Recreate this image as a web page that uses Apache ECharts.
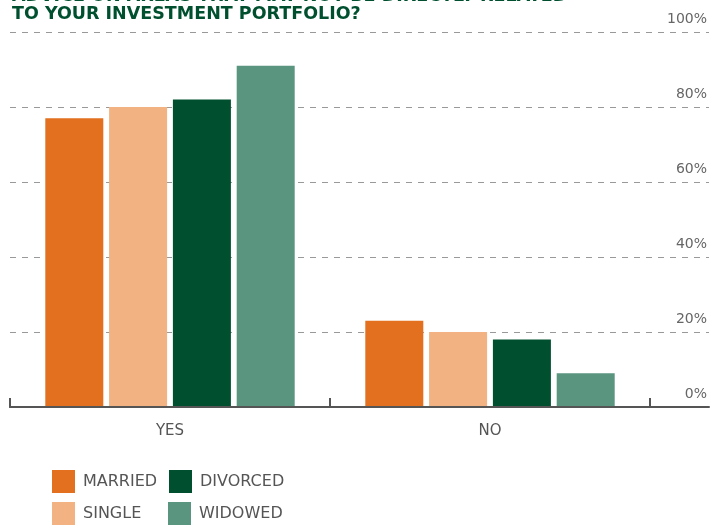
<!DOCTYPE html>
<html lang="en">
<head>
    <meta charset="UTF-8">
    <title>Advice on areas not directly related to your investment portfolio</title>
    <script src="https://cdn.jsdelivr.net/npm/echarts@6/dist/echarts.min.js"></script>
    <style>
        html, body { margin: 0; padding: 0; background: #fff; }
        #chart { width: 710px; height: 525px; }
    </style>
</head>
<body>
    <div id="chart"></div>
    <script>
        const categories = ['YES', 'NO'];
        const married = [77, 23];
        const single = [80, 20];
        const divorced = [82, 18];
        const widowed = [91, 9];
        const yTicks = [0, 20, 40, 60, 80, 100];

        const colors = {
            MARRIED: '#e2701f',
            SINGLE: '#f2b281',
            DIVORCED: '#00502f',
            WIDOWED: '#5a9580'
        };

        const chart = echarts.init(document.getElementById('chart'));

        const barSeries = (name, values) => ({
            name: name,
            type: 'bar',
            xAxisIndex: 0,
            yAxisIndex: 0,
            barWidth: 58,
            barGap: '10%',
            data: values,
            itemStyle: { color: colors[name] }
        });

        // one legend per item so the 2x2 block sits where the original has it
        const legendItem = (name, left, top) => ({
            left: left,
            top: top,
            itemWidth: 23,
            itemHeight: 23,
            padding: 0,
            icon: 'rect',
            data: [name],
            textStyle: { color: '#555', fontSize: 16, fontFamily: 'DejaVu Sans', padding: [2, 0, 0, 3] }
        });

        const option = {
            animation: false,
            textStyle: { fontFamily: 'DejaVu Sans' },
            // title is cut off at the top in the original, so it is placed partly above the canvas
            graphic: [{
                type: 'text',
                x: 12,
                y: -13,
                style: {
                    text: 'ADVICE ON AREAS THAT MAY NOT BE DIRECTLY RELATED\nTO YOUR INVESTMENT PORTFOLIO?',
                    fill: '#00502f',
                    font: 'bold 17.5px "DejaVu Sans"',
                    lineHeight: 18
                }
            }],
            legend: [
                legendItem('MARRIED', 52, 470),
                legendItem('SINGLE', 52, 502),
                legendItem('DIVORCED', 169, 470),
                legendItem('WIDOWED', 168, 502)
            ],
            grid: [
                { left: 10, right: 60, top: 32, bottom: 118 },
                { left: 10, right: 0, top: 32, bottom: 118 }
            ],
            xAxis: [
                {
                    type: 'category',
                    gridIndex: 0,
                    data: categories,
                    z: 5,
                    axisLine: { show: true, lineStyle: { color: '#555', width: 2 } },
                    axisTick: { show: true, inside: true, length: 9, lineStyle: { color: '#555', width: 2 } },
                    axisLabel: { color: '#555', fontSize: 15, margin: 17 },
                    splitLine: { show: false }
                },
                {
                    type: 'value',
                    gridIndex: 1,
                    min: 0,
                    max: 1,
                    axisLine: { show: true, onZero: false, lineStyle: { color: '#555', width: 2 } },
                    axisTick: { show: false },
                    axisLabel: { show: false },
                    splitLine: { show: false }
                }
            ],
            yAxis: [
                {
                    type: 'value',
                    gridIndex: 0,
                    min: 0,
                    max: 100,
                    axisLine: { show: false },
                    axisTick: { show: false },
                    axisLabel: { show: false },
                    splitLine: { show: false }
                },
                {
                    type: 'value',
                    gridIndex: 1,
                    position: 'right',
                    min: 0,
                    max: 100,
                    interval: 20,
                    axisLine: { show: false },
                    axisTick: { show: false },
                    axisLabel: {
                        inside: true,
                        margin: 2,
                        color: '#666',
                        fontSize: 14,
                        verticalAlign: 'bottom',
                        padding: [0, 0, 6, 0],
                        formatter: v => yTicks.includes(v) ? v + '%' : ''
                    },
                    splitLine: { lineStyle: { color: '#999', type: [6, 6], width: 1 } }
                }
            ],
            series: [
                barSeries('MARRIED', married),
                barSeries('SINGLE', single),
                barSeries('DIVORCED', divorced),
                barSeries('WIDOWED', widowed)
            ]
        };

        chart.setOption(option);
    </script>
</body>
</html>
